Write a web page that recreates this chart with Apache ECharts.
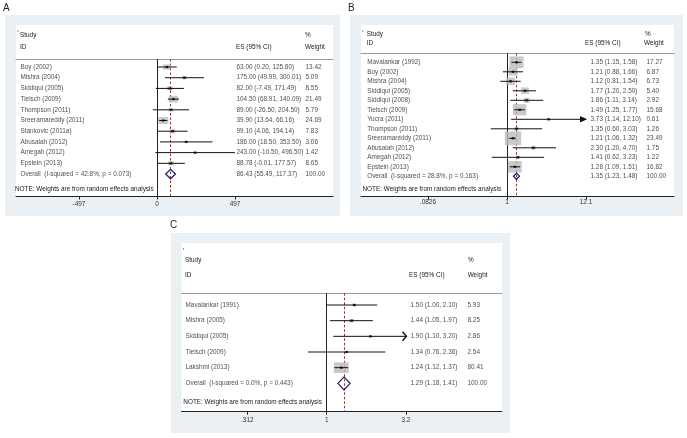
<!DOCTYPE html>
<html><head><meta charset="utf-8">
<script src="https://cdn.jsdelivr.net/npm/echarts@6/dist/echarts.min.js"></script>
<style>html,body{margin:0;padding:0;background:#fff}#c{width:687px;height:438px}</style>
</head><body><div id="c"></div>
<script>
// ---------------- DATA ----------------
// Panel A
const studiesA = ['Boy (2002)','Mishra (2004)','Siddiqui (2005)','Tielsch (2009)','Thompson (2011)','Sreeramareddy (2011)','Stankovic (2011a)','Abusalah (2012)','Amegah (2012)','Epstein (2013)'];
const esA = [63.00,175.00,82.00,104.50,89.00,39.90,99.10,186.00,243.00,88.78];
const loA = [0.20,49.99,-7.49,68.91,-26.50,13.64,4.06,18.50,-10.50,-0.01];
const hiA = [125.80,300.01,171.49,140.09,204.50,66.16,194.14,353.50,496.50,177.57];
const wA  = [13.42,5.09,8.55,21.49,5.79,24.69,7.83,3.06,1.42,8.65];
const overallA = [86.43,55.49,117.37];
const overallLabelA = 'Overall  (I-squared = 42.8%, p = 0.073)';
const ticksA = [-497,0,497];
const tickLabelsA = ['-497','0','497'];

// Panel B
const studiesB = ['Mavalankar (1992)','Boy (2002)','Mishra (2004)','Siddiqui (2005)','Siddiqui (2008)','Tielsch (2009)','Yucra (2011)','Thompson (2011)','Sreeramareddy (2011)','Abusalah (2012)','Amegah (2012)','Epstein (2013)'];
const esB = [1.35,1.21,1.12,1.77,1.86,1.49,3.73,1.35,1.21,2.30,1.41,1.28];
const loB = [1.15,0.88,0.81,1.20,1.11,1.25,1.14,0.60,1.06,1.20,0.62,1.09];
const hiB = [1.58,1.66,1.54,2.50,3.14,1.77,12.10,3.03,1.32,4.70,3.23,1.51];
const wB  = [17.27,6.87,6.73,5.40,2.92,15.68,0.61,1.26,23.49,1.75,1.22,16.82];
const overallB = [1.35,1.23,1.48];
const overallLabelB = 'Overall  (I-squared = 28.8%, p = 0.163)';
const ticksB = [0.0826,1,12.1];
const tickLabelsB = ['.0826','1','12.1'];

// Panel C
const studiesC = ['Mavalankar (1991)','Mishra (2005)','Siddiqui (2005)','Tielsch (2009)','Lakshmi (2013)'];
const esC = [1.50,1.44,1.90,1.34,1.24];
const loC = [1.00,1.05,1.10,0.76,1.12];
const hiC = [2.10,1.97,3.20,2.36,1.37];
const wC  = [5.93,8.25,2.86,2.54,80.41];
const overallC = [1.29,1.18,1.41];
const overallLabelC = 'Overall  (I-squared = 0.0%, p = 0.443)';
const ticksC = [0.312,1,3.2];
const tickLabelsC = ['.312','1','3.2'];

const noteText = 'NOTE: Weights are from random effects analysis';

// ---------------- LAYOUT ----------------
const layoutA = {letter:'A', letterPos:[3,8], outer:[5,15,335,201], white:[16,25,317,171.5],
  grid:[16,59,317,137.5], yMin:-0.748, yMax:12.10, xMin:-898.4, xMax:1121.4,
  colName:20, colES:236, colW:305, hdr:{study:[20,35], id:[20,47], es:[236,47], pct:[305,35], wt:[305,47]},
  note:[15,189], boxK:2.05, boxAspect:1.45, dH:4.7, arrow:'fill', labelMargin:4.5};
const layoutB = {letter:'B', letterPos:[348,8], outer:[350,15,333,201], white:[361,25,313,171.7],
  grid:[361,53.3,313,143.4], yMin:-0.947, yMax:14.147, xMin:-2.0, xMax:2.288,
  colName:366.7, colES:590, colW:646, hdr:{study:[366.7,34.7], id:[366.7,43], es:[585,43], pct:[645,34.7], wt:[644,43]},
  note:[362.5,189], boxK:3.4, boxAspect:1.2, dH:3.2, arrow:'fill', labelMargin:3};
const layoutC = {letter:'C', letterPos:[170,225], outer:[171,233,339,200], white:[181.5,243,320.5,168.7],
  grid:[181.5,293.3,320.5,118.4], yMin:-0.747, yMax:6.81, xMin:-0.925, xMax:1.117,
  colName:185, colES:410, colW:467, hdr:{study:[185,260], id:[185,275], es:[409,275], pct:[468,260], wt:[467.7,275]},
  note:[183.3,402.7], boxK:1.65, boxAspect:1.4, dH:6.5, arrow:'chevron', labelMargin:5.5};

const panels = [
  {studies:studiesA, es:esA, lo:loA, hi:hiA, w:wA, overall:overallA, overallLabel:overallLabelA, ticks:ticksA, tickLabels:tickLabelsA, log:false, nullV:0, L:layoutA},
  {studies:studiesB, es:esB, lo:loB, hi:hiB, w:wB, overall:overallB, overallLabel:overallLabelB, ticks:ticksB, tickLabels:tickLabelsB, log:true, nullV:1, L:layoutB},
  {studies:studiesC, es:esC, lo:loC, hi:hiC, w:wC, overall:overallC, overallLabel:overallLabelC, ticks:ticksC, tickLabels:tickLabelsC, log:true, nullV:1, L:layoutC}
];

const FONT = "'Liberation Sans', Arial, Helvetica, sans-serif";
const TXT = '#222';
const FS = 6.4;
const BAND = '#eaf0f3';

const grids = [], xAxes = [], yAxes = [], series = [], graphics = [];
const f2 = v => v.toFixed(2);

function txt(x, y, s, extra) {
  return Object.assign({type:'text', z:1, style:{x:x, y:y, text:s, fill:TXT, font: FS + 'px ' + FONT, textVerticalAlign:'middle', textAlign:'left'}}, extra||{});
}

panels.forEach((d) => {
  const L = d.L;
  const T = d.log ? (v => Math.log10(v)) : (v => v);
  const n = d.studies.length;
  // backgrounds
  graphics.push({type:'rect', z:-10, shape:{x:L.outer[0], y:L.outer[1], width:L.outer[2], height:L.outer[3]}, style:{fill:BAND}});
  graphics.push({type:'rect', z:-9, shape:{x:L.white[0], y:L.white[1], width:L.white[2], height:L.white[3]}, style:{fill:'#fff'}});
  graphics.push({type:'rect', z:-8, shape:{x:L.white[0]+1.5, y:L.white[1]+5, width:0.8, height:2}, style:{fill:'#777'}});
  graphics.push({type:'text', z:1, style:{x:L.letterPos[0], y:L.letterPos[1], text:L.letter, fill:'#222', font:'10px ' + FONT, textVerticalAlign:'middle'}});
  graphics.push(txt(L.hdr.study[0], L.hdr.study[1], 'Study'));
  graphics.push(txt(L.hdr.id[0], L.hdr.id[1], 'ID'));
  graphics.push(txt(L.hdr.es[0], L.hdr.es[1], 'ES (95% CI)'));
  graphics.push(txt(L.hdr.pct[0], L.hdr.pct[1], '%'));
  graphics.push(txt(L.hdr.wt[0], L.hdr.wt[1], 'Weight'));
  graphics.push(txt(L.note[0], L.note[1], noteText));

  grids.push({left:L.grid[0], top:L.grid[1], width:L.grid[2], height:L.grid[3], containLabel:false, show:false});
  const gi = grids.length - 1;
  const tickVals = d.ticks.map(T);
  xAxes.push({gridIndex:gi, type:'value', min:L.xMin, max:L.xMax, position:'bottom',
    axisLine:{show:true, onZero:false, lineStyle:{color:'#222', width:1}},
    axisTick:{show:true, length:3, inside:false, lineStyle:{color:'#222', width:1}, customValues:tickVals},
    axisLabel:{show:true, fontSize:FS, fontFamily:FONT, color:'#333', margin:L.labelMargin, customValues:tickVals,
      formatter:(v) => { let best = 0; tickVals.forEach((t,k)=>{ if (Math.abs(t-v) < Math.abs(tickVals[best]-v)) best = k; }); return d.tickLabels[best]; }},
    splitLine:{show:false}});
  const xMain = xAxes.length - 1;
  xAxes.push({gridIndex:gi, type:'value', min:0, max:L.grid[2], position:'top',
    axisLine:{show:true, onZero:false, lineStyle:{color:'#9a9a9a', width:1}},
    axisTick:{show:false}, axisLabel:{show:false}, splitLine:{show:false}});
  const xAux = xAxes.length - 1;
  yAxes.push({gridIndex:gi, type:'value', inverse:true, min:L.yMin, max:L.yMax, show:false,
    axisLine:{show:false}, splitLine:{show:false}});
  const yi = yAxes.length - 1;

  const cmin = T(d.ticks[0]), cmax = T(d.ticks[d.ticks.length-1]);

  // reference lines (null + overall)
  series.push({type:'scatter', xAxisIndex:xMain, yAxisIndex:yi, data:[], silent:true,
    markLine:{z:1, silent:true, symbol:'none', animation:false, label:{show:false},
      data:[
        {xAxis:T(d.nullV), lineStyle:{color:'#222', type:'solid', width:1}},
        {xAxis:T(d.overall[0]), lineStyle:{color:'#b02424', type:[2.5,2], width:1}}
      ]}});

  // weight boxes
  series.push({type:'scatter', xAxisIndex:xMain, yAxisIndex:yi, z:2, silent:true,
    symbol:'rect',
    symbolSize:(v) => { const s = L.boxK * Math.sqrt(v[2]); return [Math.max(s,2.2), Math.max(s/L.boxAspect,1.6)]; },
    itemStyle:{color:'#bdbdbd'},
    data:d.es.map((v,i)=>[T(v), i, d.w[i]])});

  // CI lines
  series.push({type:'custom', xAxisIndex:xMain, yAxisIndex:yi, z:3, silent:true,
    encode:{x:[0,1], y:2},
    data:d.lo.map((v,i)=>[T(v), T(d.hi[i]), i]),
    renderItem:(params, api) => {
      const lo = api.value(0), hi = api.value(1), y = api.value(2);
      const a = Math.max(lo, cmin), b = Math.min(hi, cmax);
      const p1 = api.coord([a, y]), p2 = api.coord([b, y]);
      const ch = [{type:'line', shape:{x1:p1[0], y1:p1[1], x2:p2[0], y2:p2[1]}, style:{stroke:'#111', lineWidth:1}}];
      const arrowAt = (p, dir) => {
        if (L.arrow === 'fill') {
          return {type:'polygon', shape:{points:[[p[0]+dir*1,p[1]],[p[0]-dir*6,p[1]-3.2],[p[0]-dir*6,p[1]+3.2]]}, style:{fill:'#111'}};
        }
        return {type:'polyline', shape:{points:[[p[0]-dir*3.5,p[1]-4.5],[p[0]+dir*0.5,p[1]],[p[0]-dir*3.5,p[1]+4.5]]}, style:{stroke:'#111', lineWidth:1.4, fill:null}};
      };
      if (hi >= cmax - 1e-9) ch.push(arrowAt(p2, 1));
      if (lo <= cmin + 1e-9) ch.push(arrowAt(p1, -1));
      return {type:'group', children:ch};
    }});

  // point estimates
  series.push({type:'scatter', xAxisIndex:xMain, yAxisIndex:yi, z:4, silent:true,
    symbol:'rect', symbolSize:[2.6,2.2], itemStyle:{color:'#000'},
    data:d.es.map((v,i)=>[T(v), i])});

  // overall diamond
  series.push({type:'custom', xAxisIndex:xMain, yAxisIndex:yi, z:4, silent:true,
    encode:{x:[0,1,2], y:3},
    data:[[T(d.overall[1]), T(d.overall[0]), T(d.overall[2]), n]],
    renderItem:(params, api) => {
      const y = api.value(3);
      const pl = api.coord([api.value(0), y]), pm = api.coord([api.value(1), y]), pr = api.coord([api.value(2), y]);
      return {type:'polygon', shape:{points:[pl,[pm[0], pm[1]-L.dH], pr, [pm[0], pm[1]+L.dH]]},
        style:{fill:null, stroke:'#22226e', lineWidth:1.3}};
    }});

  // text columns
  const textSeries = (col, rows) => ({type:'scatter', xAxisIndex:xAux, yAxisIndex:yi, z:5, silent:true,
    symbolSize:1, itemStyle:{color:'rgba(0,0,0,0)'},
    label:{show:true, position:'right', distance:0, fontSize:FS, fontFamily:FONT, color:TXT,
      formatter:(p) => p.value[2]},
    labelLayout:{hideOverlap:false},
    data:rows.map((s,i)=>[col - L.grid[0], i, s])});
  series.push(textSeries(L.colName, d.studies.concat([d.overallLabel])));
  series.push(textSeries(L.colES, d.es.map((v,i)=> f2(v) + ' (' + f2(d.lo[i]) + ', ' + f2(d.hi[i]) + ')')
      .concat([f2(d.overall[0]) + ' (' + f2(d.overall[1]) + ', ' + f2(d.overall[2]) + ')'])));
  series.push(textSeries(L.colW, d.w.map(f2).concat(['100.00'])));
});

const chart = echarts.init(document.getElementById('c'), null, {renderer:'canvas'});
chart.setOption({
  animation:false,
  backgroundColor:'#fff',
  grid:grids, xAxis:xAxes, yAxis:yAxes, series:series,
  graphic:{elements:graphics}
});
</script>
</body></html>
